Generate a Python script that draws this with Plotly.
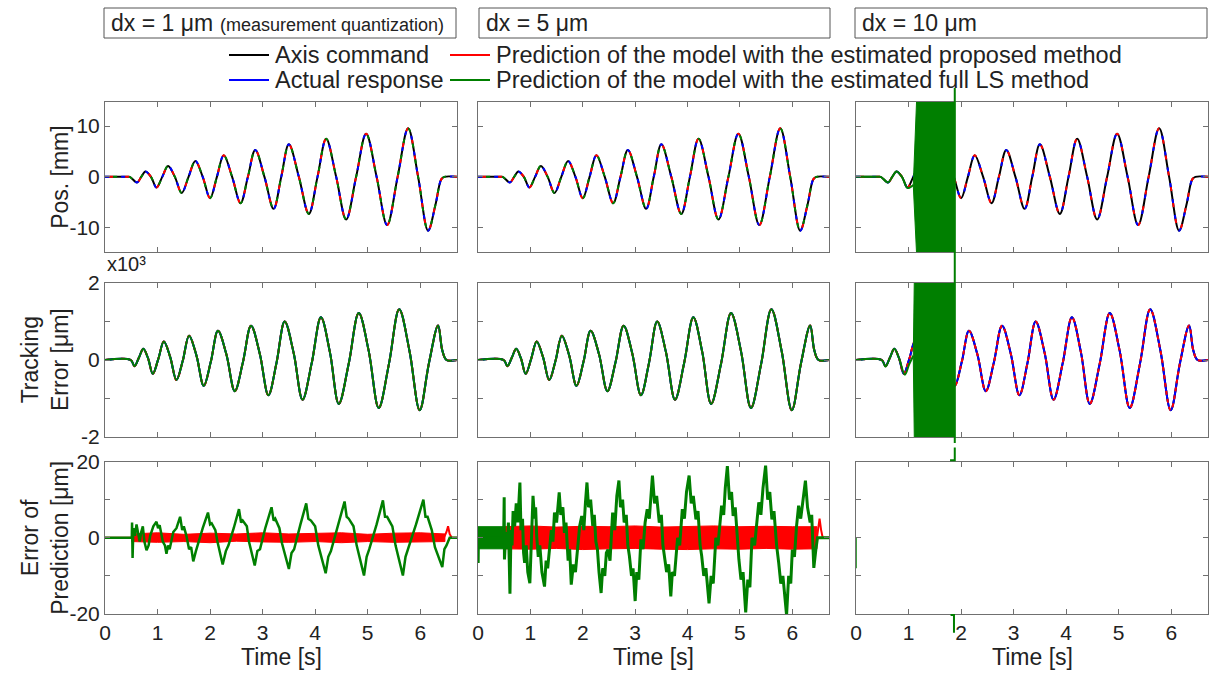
import plotly.graph_objects as go

W, H = 1209, 673
FONT = "Liberation Sans, Arial, sans-serif"
TXT = "#222222"
AXC = "#707070"
BLACK, BLUE, RED, GREEN = "#000000", "#0000ff", "#ff0000", "#007f00"

# ---------------- data ----------------
time_ticks = [0, 1, 2, 3, 4, 5, 6]
time_labels = ["0", "1", "2", "3", "4", "5", "6"]

column_titles = ["dx = 1 μm", "dx = 5 μm", "dx = 10 μm"]
column_note = "(measurement quantization)"

legend_names = ["Axis command", "Actual response",
                "Prediction of the model with the estimated proposed method",
                "Prediction of the model with the estimated full LS method"]

# Position [mm] (command, response and predictions coincide at this scale)
pos_t = [0.0, 0.40, 0.47, 0.61, 0.69, 0.77, 0.875, 0.98, 1.09, 1.20, 1.33, 1.46, 1.59, 1.72,
         1.86, 2.00, 2.13, 2.26, 2.42, 2.58, 2.72, 2.86, 3.035, 3.21, 3.355, 3.50, 3.69, 3.88,
         4.045, 4.21, 4.40, 4.59, 4.78, 4.97, 5.17, 5.37, 5.57, 5.77, 5.96, 6.15, 6.29, 6.40,
         6.46, 6.7]
pos_v = [0, 0, 0, -1.1, 0, 1.06, 0, -2.1, 0, 2.16, 0, -3.2, 0, 3.14,
         0, -4.2, 0, 4.25, 0, -5.2, 0, 5.3, 0, -6.3, 0, 6.4, 0, -7.3,
         0, 7.5, 0, -8.4, 0, 8.5, 0, -9.5, 0, 9.55, 0, -10.6, -5.5, -0.5,
         0, 0]

# Tracking error [µm]
err_t = [0.0, 0.49, 0.56, 0.645, 0.73, 0.82, 0.91, 1.015, 1.12, 1.24, 1.36, 1.48, 1.60, 1.74,
         1.88, 2.015, 2.15, 2.31, 2.47, 2.625, 2.78, 2.945, 3.11, 3.265, 3.42, 3.59, 3.76,
         3.935, 4.11, 4.28, 4.45, 4.64, 4.83, 5.02, 5.21, 5.405, 5.60, 5.795, 5.99, 6.165,
         6.34, 6.42, 6.50, 6.7]
err_v = [0, 0, -160, 60, 290, 40, -360, 30, 480, 80, -520, -20, 630, 120,
         -670, -40, 760, 150, -810, -60, 890, 170, -915, -70, 1000, 190, -1030,
         -80, 1110, 210, -1140, -90, 1220, 230, -1245, -100, 1320, 240, -1305, -90,
         895, 250, 0, 0]

# dx = 10 µm : full LS prediction diverges
ls10_pos_t = [0.0, 0.40, 0.47, 0.61, 0.69, 0.77, 0.875, 0.98, 1.09]
ls10_pos_v = [0, 0, 0, -1.1, 0, 1.06, 0, -2.2, -1.6]
blob_pos_t = [1.09, 1.157, 1.88]
blob_pos_hi = [-1.6, 16, 16]
blob_pos_lo = [-1.6, -16, -16]

ls10_err_t = [0.0, 0.49, 0.56, 0.645, 0.73, 0.82, 0.93, 1.01, 1.09]
ls10_err_v = [0, 0, -170, 60, 290, 40, -380, -120, 110]
blob_err_t = [1.09, 1.11, 1.88]
blob_err_hi = [110, 2100, 2100]
blob_err_lo = [110, -2100, -2100]

# divergent full-LS trace leaving the axes (values in position units of row 1)
spike_t = [1.88, 1.88, None, 1.88, 1.88, 1.79, None, 1.80, 1.865, 1.865]
spike_v = [17.5, -52.4, None, -53.3, -55.8, -55.8, None, -86.3, -86.3, -89.8]

# Error of prediction [µm], dx = 1 µm : (time, value) pairs of the full-LS prediction error
pe1_ls = [(0.0, 0), (0.51, 0), (0.515, 4.0), (0.525, -5.3), (0.54, 2.5), (0.57, 0.5), (0.60, 3.5),
          (0.63, 1.0), (0.66, -1.0), (0.69, 1.5), (0.72, 3.0), (0.75, -1.0), (0.79, -3.3),
          (0.83, -2.0), (0.86, 0.5), (0.92, 3.0), (0.98, 4.2), (1.01, 2.5), (1.04, 3.3),
          (1.10, -1.0), (1.14, -2.0), (1.17, -4.2), (1.20, -2.0), (1.23, -3.0), (1.30, 1.5),
          (1.36, 2.5), (1.43, 5.5), (1.47, 2.0), (1.50, 3.0), (1.55, 0.5), (1.60, -3.0),
          (1.64, -2.5), (1.68, -6.2), (1.73, -3.5), (1.78, -1.0), (1.86, 2.5), (1.96, 6.6),
          (2.00, 3.5), (2.03, 3.8), (2.10, 2.0), (2.14, -1.0), (2.24, -7.0), (2.30, -3.5),
          (2.35, -2.0), (2.45, 2.5), (2.55, 7.5), (2.59, 4.0), (2.62, 4.5), (2.70, 3.0),
          (2.74, -1.0), (2.85, -7.3), (2.90, -3.5), (2.95, -3.0), (3.05, 2.5), (3.17, 8.0),
          (3.21, 4.5), (3.24, 5.0), (3.32, 2.5), (3.37, -1.5), (3.50, -8.2), (3.55, -4.0),
          (3.60, -3.0), (3.72, 3.5), (3.83, 9.0), (3.87, 5.0), (3.92, 4.5), (4.00, 3.0),
          (4.06, -2.0), (4.20, -9.3), (4.25, -5.0), (4.30, -3.5), (4.44, 3.5), (4.56, 9.5),
          (4.60, 5.5), (4.64, 5.0), (4.73, 3.0), (4.79, -2.0), (4.93, -9.9), (4.98, -5.0),
          (5.03, -3.0), (5.17, 3.5), (5.29, 9.8), (5.33, 5.5), (5.37, 5.5), (5.47, 3.0),
          (5.53, -2.0), (5.67, -9.9), (5.72, -5.0), (5.77, -3.0), (5.92, 3.5), (6.06, 10.0),
          (6.10, 5.5), (6.14, 5.5), (6.22, 2.0), (6.28, -2.5), (6.42, -7.7), (6.46, -3.0),
          (6.50, -2.0), (6.56, 0), (6.7, 0)]
pe1_pr_band_t = [0.50, 1.0, 1.5, 2.0, 2.5, 3.0, 3.5, 4.0, 4.5, 5.0, 5.5, 6.0, 6.47]
pe1_pr_band_hi = [1.0, 1.3, 0.9, 1.2, 1.0, 1.3, 1.0, 1.1, 1.3, 0.9, 1.2, 1.3, 1.0]
pe1_pr_band_lo = [-1.0, -1.2, -1.0, -1.3, -0.9, -1.1, -1.2, -1.0, -1.3, -1.0, -1.2, -1.1, -1.0]
pe1_pr_t = [0.0, 0.50, 6.45, 6.50, 6.53, 6.56, 6.60, 6.7]
pe1_pr_v = [0, 0, 0, 1.5, 3.0, 1.0, 0, 0]

# Error of prediction [µm], dx = 5 µm : (time, value) pairs of the full-LS prediction error
pe5_ls = [(0.0, 0), (0.003, -6.6), (0.008, 0), (0.49, 0), (0.50, 10.6), (0.505, -5.7),
          (0.53, 1.5), (0.56, -3.0), (0.58, 4.0), (0.61, -14.7), (0.63, 2.0), (0.65, -2.0),
          (0.67, 7.0), (0.70, 3.0), (0.73, 9.0), (0.76, 4.0), (0.80, 14.5), (0.82, 2.0),
          (0.85, 5.0), (0.87, -4.0), (0.89, -6.6), (0.92, -2.0), (0.95, -9.0), (0.99, -11.9),
          (1.01, -3.0), (1.03, 4.0), (1.05, 11.0), (1.08, 5.0), (1.10, 8.0), (1.12, 0.5),
          (1.15, -5.0), (1.18, -2.0), (1.22, -9.0), (1.27, -12.8), (1.30, -6.0), (1.33, -8.0),
          (1.37, -2.2), (1.40, 2.0), (1.43, -1.0), (1.46, 6.6), (1.50, 4.0), (1.55, 11.9),
          (1.58, 6.0), (1.62, 8.0), (1.65, 1.3), (1.68, 4.0), (1.72, -6.0), (1.75, -3.0),
          (1.78, -12.3), (1.82, -7.0), (1.86, -9.0), (1.91, -0.4), (1.94, 3.0), (1.98, 5.7),
          (2.02, 2.0), (2.05, 9.0), (2.08, 14.5), (2.11, 8.0), (2.15, 10.0), (2.19, 3.1),
          (2.22, 6.0), (2.25, -1.0), (2.28, -3.1), (2.31, -9.0), (2.35, -14.5), (2.38, -8.0),
          (2.42, -10.0), (2.45, -4.0), (2.48, -3.1), (2.52, -6.0), (2.57, 6.6), (2.61, 2.0),
          (2.65, 11.0), (2.69, 15.0), (2.72, 8.0), (2.76, 10.0), (2.79, 4.0), (2.83, 6.0),
          (2.86, -2.0), (2.89, -4.8), (2.93, -10.0), (2.96, -8.0), (3.00, -16.6), (3.03, -9.0),
          (3.07, -11.0), (3.11, -0.4), (3.15, -3.0), (3.19, 4.0), (3.23, 7.5), (3.27, 5.0),
          (3.30, 12.0), (3.33, 16.3), (3.37, 9.0), (3.41, 11.0), (3.46, 4.0), (3.50, 6.0),
          (3.53, -2.0), (3.56, -4.8), (3.60, -9.0), (3.64, -7.0), (3.68, -15.4), (3.71, -9.0),
          (3.75, -10.0), (3.81, 0.0), (3.85, -2.0), (3.90, 7.5), (3.94, 5.0), (3.98, 12.0),
          (4.03, 16.3), (4.07, 9.0), (4.11, 11.0), (4.16, 4.8), (4.20, 7.0), (4.24, -2.0),
          (4.27, -4.8), (4.31, -10.0), (4.35, -8.0), (4.41, -17.2), (4.45, -10.0),
          (4.49, -12.0), (4.54, 0.0), (4.58, -2.0), (4.65, 8.4), (4.69, 6.0), (4.72, 13.0),
          (4.76, 18.8), (4.80, 10.0), (4.84, 12.0), (4.87, 5.7), (4.91, 8.0), (4.95, -1.0),
          (4.98, -5.7), (5.02, -11.0), (5.06, -9.0), (5.11, -19.6), (5.15, -11.0),
          (5.19, -13.0), (5.23, 0.0), (5.28, -2.0), (5.36, 9.3), (5.40, 6.0), (5.44, 13.0),
          (5.49, 18.9), (5.53, 10.0), (5.57, 12.0), (5.61, 4.8), (5.65, 7.0), (5.70, -2.0),
          (5.74, -6.6), (5.78, -12.0), (5.82, -10.0), (5.89, -20.3), (5.93, -10.0),
          (5.97, -12.0), (6.00, -3.1), (6.04, -5.0), (6.08, 3.0), (6.12, 8.4), (6.16, 5.0),
          (6.20, 10.0), (6.25, 15.0), (6.29, 8.0), (6.34, 4.0), (6.37, 6.0), (6.41, -7.9),
          (6.45, -3.0), (6.48, 0.0), (6.52, 0.0), (6.7, 0.0)]
pe5_ls_band_t = [0.0, 0.50]
pe5_ls_band_hi = [2.9, 2.9]
pe5_ls_band_lo = [-2.9, -2.9]
pe5_pr_band_t = [0.50, 1.0, 1.5, 2.0, 2.5, 3.0, 3.5, 4.0, 4.5, 5.0, 5.5, 6.0, 6.47]
pe5_pr_band_hi = [2.9, 3.1, 2.8, 3.0, 2.9, 3.1, 2.8, 3.0, 3.1, 2.9, 3.0, 2.9, 2.9]
pe5_pr_band_lo = [-2.9, -3.0, -2.8, -3.1, -2.9, -2.8, -3.0, -3.1, -2.9, -3.0, -2.8, -3.0, -2.9]
pe5_pr_t = [0.0, 0.50, 6.47, 6.50, 6.52, 6.55, 6.58, 6.7]
pe5_pr_v = [0, 0, 0, 3.0, 5.0, 2.0, 0, 0]

# Error of prediction [µm], dx = 10 µm (full LS leaves the axes)
pe10_ls_t = [0.0, 0.0]
pe10_ls_v = [0.0, -8.0]

# ---------------- geometry ----------------
col_px = [(105, 457), (478, 829), (856, 1208)]
row_px = [(101.7, 252.0), (283.0, 437.0), (461.5, 614.0)]
yranges = [[-14.8, 14.8], [-2000, 2000], [-20, 20]]
ytickvals = [[-10, 0, 10], [-2000, 0, 2000], [-20, 0, 20]]
yticktext = [["-10", "0", "10"], ["-2", "0", "2"], ["-20", "0", "20"]]
yminor = [[], [-1000, 1000], [-10, 10]]


def xname(i):
    return "x" if i == 1 else f"x{i}"


def yname(i):
    return "y" if i == 1 else f"y{i}"


fig = go.Figure()


def line(i, t, v, color, width=2, dash=None, shape="linear"):
    fig.add_trace(go.Scatter(x=t, y=v, mode="lines", xaxis=xname(i), yaxis=yname(i),
                             line=dict(color=color, width=width, dash=dash, shape=shape,
                                       smoothing=1.0 if shape == "spline" else None),
                             showlegend=False, hoverinfo="skip"))


def band(i, t, hi, lo, color, lw=0):
    fig.add_trace(go.Scatter(x=list(t) + list(t)[::-1], y=list(hi) + list(lo)[::-1],
                             mode="lines", fill="toself", fillcolor=color,
                             line=dict(color=color, width=lw), xaxis=xname(i), yaxis=yname(i),
                             showlegend=False, hoverinfo="skip"))


# Row 1: position
for c in range(3):
    i = 0 * 3 + c + 1
    line(i, pos_t, pos_v, BLACK, 2, None, "spline")
    line(i, pos_t, pos_v, BLUE, 2, "4px,12px", "spline")
    line(i, pos_t, pos_v, RED, 2, "0px,4px,4px,8px", "spline")
    if c < 2:
        line(i, pos_t, pos_v, GREEN, 2, "0px,8px,4px,4px", "spline")
    else:
        line(i, ls10_pos_t, ls10_pos_v, GREEN, 2, None, "spline")
        band(i, blob_pos_t, blob_pos_hi, blob_pos_lo, GREEN, 1)

# Row 2: tracking error
for c in range(3):
    i = 1 * 3 + c + 1
    line(i, err_t, err_v, BLACK, 2, None, "spline")
    line(i, err_t, err_v, BLUE, 2, None, "spline")
    line(i, err_t, err_v, RED, 2, "4px,4px", "spline")
    if c < 2:
        line(i, err_t, err_v, GREEN, 2, None, "spline")
    else:
        line(i, ls10_err_t, ls10_err_v, GREEN, 2, None, "spline")
        band(i, blob_err_t, blob_err_hi, blob_err_lo, GREEN, 1)

# Row 3: error of prediction
band(7, pe1_pr_band_t, pe1_pr_band_hi, pe1_pr_band_lo, RED, 1)
line(7, pe1_pr_t, pe1_pr_v, RED, 2)
line(7, [p[0] for p in pe1_ls], [p[1] for p in pe1_ls], GREEN, 2.5)

band(8, pe5_pr_band_t, pe5_pr_band_hi, pe5_pr_band_lo, RED, 1)
line(8, pe5_pr_t, pe5_pr_v, RED, 2)
band(8, pe5_ls_band_t, pe5_ls_band_hi, pe5_ls_band_lo, GREEN, 1)
line(8, [p[0] for p in pe5_ls], [p[1] for p in pe5_ls], GREEN, 3)

line(9, pe10_ls_t, pe10_ls_v, GREEN, 1.5)

# overlay axes (col 3, full height) for the diverging full-LS line drawn outside the boxes
fig.add_trace(go.Scatter(x=spike_t, y=spike_v, mode="lines", xaxis="x10", yaxis="y10",
                         line=dict(color=GREEN, width=2), showlegend=False, hoverinfo="skip",
                         connectgaps=False))

layout = {}
for r in range(3):
    for c in range(3):
        i = r * 3 + c + 1
        xa = dict(domain=[col_px[c][0] / W, col_px[c][1] / W], range=[0, 6.7],
                  anchor=yname(i), tickmode="array", tickvals=time_ticks, ticktext=time_labels,
                  showticklabels=(r == 2), ticks="inside", ticklen=5, tickcolor=AXC,
                  showline=True, linecolor=AXC, linewidth=1, mirror="ticks",
                  showgrid=False, zeroline=False, automargin=False,
                  tickfont=dict(family=FONT, size=21, color=TXT))
        ya = dict(domain=[1 - row_px[r][1] / H, 1 - row_px[r][0] / H], range=yranges[r],
                  anchor=xname(i), tickmode="array", tickvals=ytickvals[r],
                  ticktext=yticktext[r], showticklabels=(c == 0), ticks="inside", ticklen=5,
                  tickcolor=AXC, showline=True, linecolor=AXC, linewidth=1, mirror="ticks",
                  showgrid=False, zeroline=False, automargin=False,
                  tickfont=dict(family=FONT, size=21, color=TXT))
        if yminor[r]:
            ya["minor"] = dict(tickmode="array", tickvals=yminor[r], ticks="inside",
                               ticklen=5, tickcolor=AXC, showgrid=False)
        layout["xaxis" if i == 1 else f"xaxis{i}"] = xa
        layout["yaxis" if i == 1 else f"yaxis{i}"] = ya

# overlay axis scaled like row-1 position axis, spanning whole figure height
s = (row_px[0][1] - row_px[0][0]) / (yranges[0][1] - yranges[0][0])
cpx = row_px[0][0] + yranges[0][1] * s
layout["xaxis10"] = dict(domain=[col_px[2][0] / W, col_px[2][1] / W], range=[0, 6.7],
                         anchor="y10", visible=False, fixedrange=True, automargin=False)
layout["yaxis10"] = dict(domain=[0, 1], range=[(cpx - H) / s, cpx / s], anchor="x10",
                         visible=False, fixedrange=True, automargin=False)

shapes = []
annotations = []

# column header boxes
box_x = [(104, 456), (479, 830), (855, 1207)]
for c in range(3):
    x0, x1 = box_x[c]
    shapes.append(dict(type="rect", xref="paper", yref="paper", x0=x0 / W, x1=x1 / W,
                       y0=1 - 38 / H, y1=1 - 8 / H, line=dict(color="#555555", width=1),
                       fillcolor="white"))
    annotations.append(dict(text=column_titles[c], xref="paper", yref="paper",
                            x=(x0 + 5) / W, y=1 - 23 / H, xanchor="left", yanchor="middle",
                            showarrow=False, font=dict(family=FONT, size=23, color=TXT)))
annotations.append(dict(text=column_note, xref="paper", yref="paper", x=218 / W,
                        y=1 - 25 / H, xanchor="left", yanchor="middle", showarrow=False,
                        font=dict(family=FONT, size=18, color=TXT)))

# legend
leg_items = [(legend_names[0], BLACK, 229, 55), (legend_names[1], BLUE, 229, 80),
             (legend_names[2], RED, 450, 55), (legend_names[3], GREEN, 450, 80)]
for name, col, lx, ly in leg_items:
    shapes.append(dict(type="line", xref="paper", yref="paper", x0=lx / W, x1=(lx + 40) / W,
                       y0=1 - ly / H, y1=1 - ly / H, line=dict(color=col, width=2)))
    annotations.append(dict(text=name, xref="paper", yref="paper", x=(lx + 44) / W,
                            y=1 - ly / H, xanchor="left", yanchor="middle", showarrow=False,
                            font=dict(family=FONT, size=23.5, color=TXT)))

# y-axis titles
ytitles = [("Pos. [mm]", 60), ("Tracking<br>Error [μm]", 45), ("Error of<br>Prediction [μm]", 45)]
for r in range(3):
    t, xc = ytitles[r]
    yc = (row_px[r][0] + row_px[r][1]) / 2
    annotations.append(dict(text=t, xref="paper", yref="paper", x=xc / W, y=1 - yc / H,
                            xanchor="center", yanchor="middle", textangle=-90,
                            showarrow=False, font=dict(family=FONT, size=23, color=TXT)))

# x-axis titles
for c in range(3):
    xc = (col_px[c][0] + col_px[c][1]) / 2
    annotations.append(dict(text="Time [s]", xref="paper", yref="paper", x=xc / W,
                            y=1 - 657 / H, xanchor="center", yanchor="middle",
                            showarrow=False, font=dict(family=FONT, size=23, color=TXT)))

# exponent label
annotations.append(dict(text="x10³", xref="paper", yref="paper", x=105 / W,
                        y=1 - 264 / H, xanchor="left", yanchor="middle", showarrow=False,
                        font=dict(family=FONT, size=20, color=TXT)))

fig.update_layout(**layout)
fig.update_layout(width=W, height=H,
                  margin=dict(l=0, r=0, t=0, b=0, pad=0, autoexpand=False),
                  paper_bgcolor="white", plot_bgcolor="rgba(0,0,0,0)",
                  shapes=shapes, annotations=annotations, showlegend=False,
                  font=dict(family=FONT, color=TXT))

fig.write_html("out.html", config={"displayModeBar": False},
               post_script="document.body.style.margin='0px';"
                           "document.body.style.overflow='hidden';")
